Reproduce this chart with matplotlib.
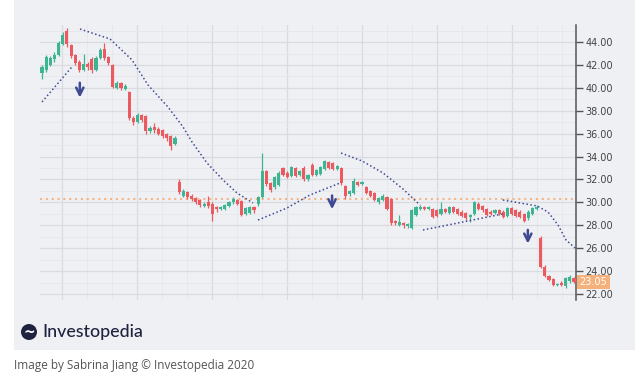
import numpy as np
import matplotlib.pyplot as plt
from matplotlib.patches import Rectangle, Ellipse

# candle data, one entry per session
opens = [
    41.3, 41.6, 42.0, 42.5, 42.9, 43.8, 45.0, 43.7, 42.9, 42.3, 41.6, 42.1, 42.5, 41.6, 42.6, 43.4,
    42.7, 42.0, 40.0, 40.4, 39.9, 39.6, 37.4, 37.0, 37.6, 37.5, 36.2, 36.6, 36.4, 36.3, 36.0, 35.8,
    35.1,
    31.8, 30.6, 30.9, 30.6, 30.4, 30.2, 29.7, 30.0, 29.9, 29.6, 29.4, 29.4, 29.7, 30.0, 30.2, 30.1,
    29.0, 29.1, 29.6, 29.9, 30.5, 32.7, 31.7, 31.3, 31.5, 33.0, 32.6, 32.3, 33.0, 32.4, 33.0, 32.0,
    33.3, 32.4, 32.5, 32.9, 33.5, 33.4, 32.9,
    33.0, 31.4, 30.7, 30.8, 31.8, 31.6, 31.3, 31.0, 30.8, 30.0, 30.2, 30.5, 30.3, 28.4, 28.0, 28.2,
    27.9, 27.8, 28.9, 29.4, 29.6, 29.4, 29.4, 29.3, 29.0, 29.4, 29.1, 29.6, 29.4, 29.2, 29.1, 28.7,
    29.0, 29.9, 29.7, 29.4, 29.2, 29.1, 29.3, 29.2, 28.8, 29.5, 29.3, 29.2, 29.0, 28.6, 29.0, 29.4,
    26.9, 24.4, 23.6, 23.3, 22.8, 23.0, 22.7, 23.1, 23.4,
]
closes = [
    41.8, 42.7, 42.6, 42.9, 43.9, 44.6, 43.8, 42.8, 42.2, 41.6, 42.1, 41.8, 41.6, 42.6, 43.3, 42.6,
    42.2, 40.1, 40.4, 40.0, 40.2, 37.4, 37.0, 37.6, 37.2, 36.2, 36.5, 36.3, 36.0, 35.8, 35.6, 34.9,
    35.6,
    30.9, 31.0, 30.5, 30.3, 30.0, 29.8, 29.9, 29.7, 29.0, 29.4, 29.6, 29.8, 30.0, 30.3, 29.9, 28.9,
    29.5, 29.6, 29.3, 30.5, 32.7, 31.6, 31.1, 32.2, 32.6, 32.4, 32.2, 33.1, 32.3, 32.7, 32.0, 32.4,
    32.4, 32.8, 33.1, 33.6, 33.0, 32.9, 33.2,
    31.7, 30.6, 31.0, 31.9, 31.5, 31.8, 30.8, 30.6, 30.2, 30.4, 30.6, 29.4, 28.2, 28.2, 28.3, 28.0,
    28.1, 29.3, 29.6, 29.6, 29.4, 29.6, 28.7, 28.8, 29.4, 29.2, 29.6, 29.2, 29.0, 28.8, 28.6, 28.9,
    30.0, 29.4, 29.3, 28.9, 29.0, 29.3, 29.0, 28.7, 29.5, 29.0, 28.8, 28.7, 28.4, 29.2, 29.5, 29.6,
    24.4, 23.6, 23.2, 22.8, 22.9, 22.8, 23.4, 23.5, 23.05,
]
highs = [
    42.0, 42.9, 42.8, 43.1, 44.1, 44.9, 45.2, 43.8, 43.0, 42.4, 43.0, 42.3, 42.7, 42.8, 43.5, 43.9,
    42.8, 42.1, 40.6, 40.5, 40.3, 39.7, 37.5, 37.8, 37.7, 37.6, 36.7, 36.9, 36.6, 36.4, 36.1, 35.9,
    35.8,
    32.0, 31.2, 31.0, 30.7, 30.5, 30.3, 30.0, 30.6, 30.0, 29.7, 29.7, 29.9, 30.1, 30.5, 30.3, 30.2,
    29.6, 29.7, 29.7, 30.6, 34.3, 32.8, 31.8, 32.3, 32.7, 33.1, 32.7, 33.2, 33.1, 32.8, 33.2, 32.5,
    33.4, 32.9, 33.2, 33.7, 33.6, 33.5, 33.3,
    33.1, 31.5, 31.1, 32.1, 31.9, 31.9, 31.4, 31.1, 30.9, 30.5, 30.7, 30.6, 30.4, 28.5, 28.9, 28.3,
    28.2, 29.4, 29.7, 29.8, 29.7, 29.7, 29.5, 29.4, 30.0, 29.5, 29.7, 29.7, 29.5, 29.3, 29.2, 29.0,
    30.1, 30.0, 29.8, 29.5, 29.3, 29.4, 29.4, 29.3, 29.6, 29.6, 29.4, 29.3, 29.1, 29.3, 29.6, 29.8,
    27.1, 24.5, 23.7, 23.4, 23.0, 23.1, 23.5, 23.7, 23.5,
]
lows = [
    40.8, 41.4, 41.9, 42.3, 42.8, 43.7, 43.6, 42.6, 42.0, 41.4, 41.5, 41.6, 41.3, 41.5, 42.5, 42.4,
    42.0, 40.0, 39.9, 39.8, 39.8, 37.2, 36.8, 36.9, 37.0, 36.0, 36.1, 36.1, 35.9, 35.6, 35.4, 34.6,
    35.0,
    30.7, 30.5, 30.3, 30.1, 29.9, 29.6, 29.6, 29.5, 28.4, 29.2, 29.3, 29.3, 29.6, 29.9, 29.8, 28.8,
    28.9, 29.0, 29.1, 29.7, 30.4, 31.4, 30.9, 31.2, 31.4, 32.3, 32.1, 32.2, 32.2, 32.3, 31.9, 31.9,
    32.3, 32.3, 32.4, 32.8, 32.9, 32.8, 32.8,
    31.5, 30.3, 30.6, 30.7, 31.4, 31.5, 30.7, 30.5, 30.1, 29.9, 30.1, 29.3, 28.0, 28.0, 27.9, 27.8,
    27.8, 27.7, 28.8, 29.3, 29.3, 29.3, 28.6, 28.7, 28.9, 29.1, 29.0, 29.1, 28.9, 28.7, 28.5, 28.3,
    28.9, 29.3, 29.2, 28.8, 28.9, 29.0, 28.9, 28.6, 28.7, 28.9, 28.7, 28.6, 28.3, 28.5, 28.9, 29.3,
    24.3, 23.5, 23.1, 22.7, 22.7, 22.7, 22.5, 23.0, 23.0,
]
last_price = 23.05
support_level = 30.3

# dotted trend sketches (session index, price)
trend1_x = [0.0, 7.2]
trend1_y = [38.77, 41.83]
trend2_x = [9.14, 16.36, 21.66, 25.51, 30.32, 33.93, 36.09, 39.70, 43.55, 46.92, 50.77]
trend2_y = [45.14, 44.27, 42.44, 40.25, 38.33, 36.59, 35.28, 33.44, 31.96, 30.82, 29.95]
trend3_x = [51.97, 58.95, 64.49, 71.71]
trend3_y = [28.46, 29.51, 30.65, 31.69]
trend4_x = [71.95, 77.0, 82.05, 86.86, 90.95]
trend4_y = [34.31, 33.62, 32.57, 31.17, 29.77]
trend5_x = [91.67, 110.9]
trend5_y = [27.59, 28.99]
trend6_x = [110.9, 115.0, 119.1, 121.75, 124.16, 126.08, 128.25]
trend6_y = [30.21, 29.95, 29.69, 29.16, 28.03, 26.72, 26.02]

# sell-signal arrows: x, top, bottom
arrow_x = [9.1, 69.8, 116.9]
arrow_top = [40.45, 30.6, 27.6]
arrow_bottom = [39.15, 29.4, 26.4]

yticks = [22, 24, 26, 28, 30, 32, 34, 36, 38, 40, 42, 44]

BG = "#eff0f4"
GREEN = "#3db593"
RED = "#ea5a5e"
NAVY = "#3e4b93"

fig = plt.figure(figsize=(6.39, 3.74), dpi=100, facecolor="white")
fig.patches.append(Rectangle((14 / 639, 1 - 350 / 374), 621 / 639, 350 / 374,
                             transform=fig.transFigure, facecolor=BG, edgecolor="none", zorder=-5))

ax = fig.add_axes([40 / 639, 1 - 300 / 374, 535.5 / 639, 275 / 374])
ax.set_facecolor("none")
ax.set_zorder(2)

idx = np.arange(len(opens))
o = np.array(opens)
c = np.array(closes)
colors = [GREEN if cc >= oo else RED for oo, cc in zip(o, c)]
body_low = np.minimum(o, c)
body_h = np.maximum(np.abs(c - o), 0.1)

ax.vlines(idx, lows, highs, colors=colors, linewidth=0.9, zorder=3)
ax.bar(idx, body_h, bottom=body_low, width=0.75, color=colors, linewidth=0, zorder=4)

ax.axhline(support_level, color="#f5b584", linestyle=(0, (1, 1.8)), linewidth=1.5, zorder=2)

for tx, ty in [(trend1_x, trend1_y), (trend2_x, trend2_y), (trend3_x, trend3_y),
               (trend4_x, trend4_y), (trend5_x, trend5_y), (trend6_x, trend6_y)]:
    ax.plot(tx, ty, color=NAVY, linestyle=(0, (1, 1.6)), linewidth=1.1, zorder=5)

for ax_x, top, bot in zip(arrow_x, arrow_top, arrow_bottom):
    ax.annotate("", xy=(ax_x, bot), xytext=(ax_x, top),
                arrowprops=dict(arrowstyle="->", color=NAVY, lw=1.8, mutation_scale=13,
                                shrinkA=0, shrinkB=0), zorder=6)

# grid
ax.set_xticks(np.arange(4.8, 128, 18.05))
ax.set_xticks(np.arange(4.8 - 18.05 / 3, 128, 18.05 / 3), minor=True)
ax.set_yticks(yticks)
ax.set_yticks(np.arange(21, 46, 1.0), minor=True)
ax.grid(True, which="major", color="#dadae1", linewidth=0.9, zorder=0)
ax.grid(True, which="minor", color="#e6e6eb", linewidth=0.6, zorder=0)
ax.set_axisbelow(True)

ax.set_xlim(-0.48, 128.37)
ax.set_ylim(21.476, 45.49)

for s in ["left", "top", "bottom"]:
    ax.spines[s].set_visible(False)
ax.spines["right"].set_color("#555555")
ax.spines["right"].set_linewidth(1.1)

ax.yaxis.tick_right()
ax.set_yticklabels([f"{v:.2f}" for v in yticks])
ax.tick_params(axis="y", which="major", direction="out", length=5, width=1, color="#555555",
               labelsize=7, labelcolor="#444444", pad=2)
ax.tick_params(axis="y", which="minor", length=0)
ax.tick_params(axis="x", which="both", length=0, labelbottom=False)

# last price tag
ax.annotate(f"{last_price:.2f}", xy=(1.0, last_price), xycoords=("axes fraction", "data"),
            xytext=(3, 0), textcoords="offset points", ha="left", va="center",
            fontsize=7, color="white",
            bbox=dict(boxstyle="square,pad=0.25", facecolor="#f6b07a", edgecolor="none"),
            zorder=10, annotation_clip=False)

# logo + caption
fig.patches.append(Ellipse((29 / 639, 1 - 332 / 374), 16 / 639, 16 / 374, transform=fig.transFigure,
                           facecolor="#1f2340", edgecolor="none", zorder=5))
fig.text(29 / 639, 1 - 333 / 374, "~", ha="center", va="center", color="white",
         fontsize=10, fontweight="bold", zorder=6)
fig.text(42 / 639, 1 - 332 / 374, "Investopedia", ha="left", va="center",
         fontsize=12.8, color="#1f2340", family="Lato", fontweight="medium")
fig.text(14 / 639, 1 - 366 / 374, "Image by Sabrina Jiang \u00a9 Investopedia 2020",
         ha="left", va="center", fontsize=8.5, color="#555555", family="Open Sans")

fig.savefig("out.png", dpi=100, facecolor="white")
